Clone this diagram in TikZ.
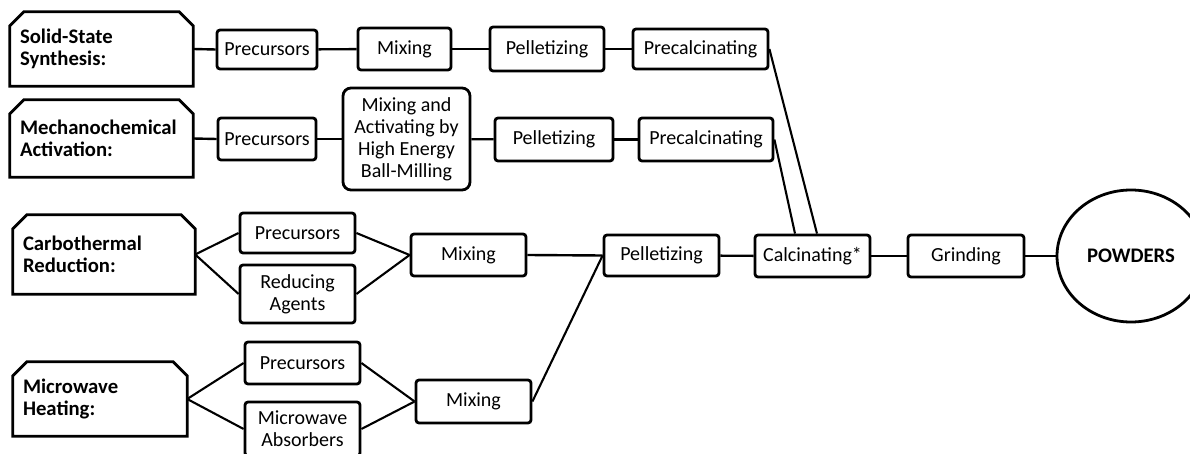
\documentclass[tikz,border=0pt]{standalone}
\usepackage{fontspec}
\setmainfont{Carlito}
\usetikzlibrary{shapes.geometric}
\begin{document}
\begin{tikzpicture}[x=1pt,y=-1pt,
  txt/.style={font=\fontsize{20}{22}\selectfont},
  box/.style={draw, line width=2.8pt, rounded corners=3pt, inner sep=0pt, align=center, txt},
  hdr/.style={inner sep=0pt, align=left, font=\fontsize{20.7}{22.5}\selectfont\bfseries},
  chamf/.style={line width=2.8pt, line join=miter},
  conn/.style={line width=2.4pt},
  diag/.style={line width=2.1pt}]
\clip (0,0) rectangle (1190,454);
% headers
\node[hdr, minimum width=183, minimum height=74, text width=163] (ss) at (101.5,49) {Solid-State\\Synthesis:};
\node[hdr, minimum width=183, minimum height=77, text width=163] (ma) at (101.5,138.5) {Mechanochemical\\Activation:};
\node[hdr, minimum width=182, minimum height=79, text width=162] (cr) at (104,254.5) {Carbothermal\\Reduction:};
\node[hdr, minimum width=174, minimum height=74, text width=154] (mh) at (100,399) {Microwave\\Heating:};
\foreach \n in {ss,ma,cr,mh}{
  \draw[chamf] ([yshift=-14]\n.north west) -- ([xshift=14]\n.north west) -- ([xshift=-14]\n.north east)
     -- ([yshift=-14]\n.north east) -- (\n.south east) -- (\n.south west) -- cycle;
}
% row 1
\node[box, minimum width=100, minimum height=39] (p1) at (267,49.5) {Precursors};
\node[box, minimum width=93, minimum height=42] (m1) at (404.5,49) {Mixing};
\node[box, minimum width=114, minimum height=44] (pe1) at (547,49) {Pelletizing};
\node[box, minimum width=135, minimum height=40] (pc1) at (700.5,49) {Precalcinating};
% row 2
\node[box, minimum width=98, minimum height=42] (p2) at (267,139) {Precursors};
\node[box, rounded corners=8pt, minimum width=127, minimum height=102] (m2) at (406.5,139) {Mixing and\\Activating by\\High Energy\\Ball-Milling};
\node[box, minimum width=118, minimum height=43] (pe2) at (554,139.5) {Pelletizing};
\node[box, minimum width=134, minimum height=43] (pc2) at (706,139.5) {Precalcinating};
% row 3
\node[box, minimum width=115, minimum height=40] (p3) at (297.5,233) {Precursors};
\node[box, minimum width=115, minimum height=58] (r3) at (297.5,294) {Reducing\\Agents};
\node[box, minimum width=115, minimum height=42] (m3) at (468.5,255) {Mixing};
\node[box, minimum width=115, minimum height=41] (pe3) at (661.5,255.5) {Pelletizing};
\node[box, minimum width=115, minimum height=42] (ca) at (812.5,256) {Calcinating*};
\node[box, minimum width=116, minimum height=42] (gr) at (966,256) {Grinding};
\node[draw, ellipse, line width=2.8pt, inner sep=0pt, minimum width=148, minimum height=132, font=\fontsize{20.7}{22}\selectfont\bfseries] (pw) at (1131,256) {POWDERS};
% row 4
\node[box, minimum width=115, minimum height=42] (p4) at (302.5,363) {Precursors};
\node[box, minimum width=115, minimum height=54] (a4) at (302.5,429) {Microwave\\Absorbers};
\node[box, minimum width=115, minimum height=43] (m4) at (473.5,401.5) {Mixing};
% connectors
\draw[conn] (ss.east) -- (p1.west);
\draw[conn] (p1) -- (m1);
\draw[conn] (m1) -- (pe1);
\draw[conn] (pe1) -- (pc1);
\draw[conn] (ma.east) -- (p2.west);
\draw[conn] (p2) -- (m2);
\draw[conn] (m2) -- (pe2);
\draw[conn] (pe2) -- (pc2);
\draw[diag] (pc1.east) -- ([xshift=4.5]ca.north);
\draw[diag] (pc2.east) -- ([xshift=-17.5]ca.north);
\draw[diag] (cr.east) -- (p3.west);
\draw[diag] (cr.east) -- (r3.west);
\draw[diag] (p3.east) -- (m3.west);
\draw[diag] (r3.east) -- (m3.west);
\draw[conn] (m3.east) -- (pe3.west);
\draw[diag] (m4.east) -- (pe3.west);
\draw[conn] (pe3) -- (ca);
\draw[conn] (ca) -- (gr);
\draw[conn] (gr) -- (pw);
\draw[diag] (mh.east) -- (p4.west);
\draw[diag] (mh.east) -- (a4.west);
\draw[diag] (p4.east) -- (m4.west);
\draw[diag] (a4.east) -- (m4.west);
\end{tikzpicture}
\end{document}
